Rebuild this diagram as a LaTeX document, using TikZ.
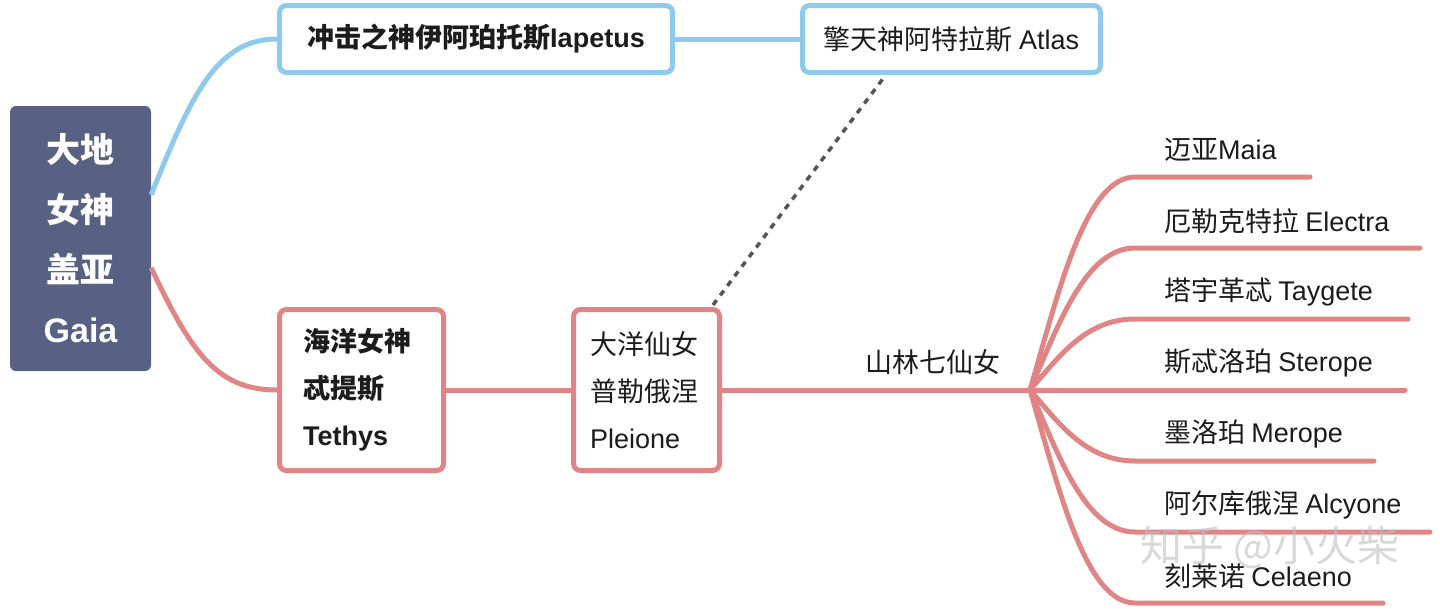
\documentclass[tikz,border=0pt]{standalone}
\usepackage{fontspec}
\setmainfont{Noto Sans CJK SC}
\newfontfamily\latinfont{Liberation Sans}
\newcommand{\lat}[1]{{\latinfont #1}}
\usetikzlibrary{calc}
\definecolor{gaiafill}{HTML}{586084}
\definecolor{blueline}{HTML}{8DCAEB}
\definecolor{redline}{HTML}{E08486}
\definecolor{dotgray}{HTML}{555555}
\definecolor{txt}{HTML}{1C1C1C}
\begin{document}
\begin{tikzpicture}[x=1pt,y=-1pt,
  rootbox/.style={fill=gaiafill, rounded corners=6pt, minimum width=141pt, minimum height=265pt,
    text=white, font=\fontsize{34}{60}\selectfont\bfseries, align=center, inner sep=0pt},
  bluebox/.style={draw=blueline, line width=5pt, rounded corners=7pt, fill=white, inner sep=0pt,
    text=txt, minimum height=67pt},
  redbox/.style={draw=redline, line width=5pt, rounded corners=7pt, fill=white, inner ysep=0pt,
    text=txt, minimum height=161pt, align=left},
  bluecon/.style={draw=blueline, line width=5pt},
  redcon/.style={draw=redline, line width=5pt, line cap=round},
  dotcon/.style={draw=dotgray, line width=3.5pt, dash pattern=on 6pt off 6pt},
  leaf/.style={text=txt, font=\fontsize{27}{32}\selectfont, inner sep=0pt},
  f27/.style={font=\fontsize{27}{47}\selectfont},
  f27b/.style={font=\fontsize{27}{47}\selectfont\bfseries},
]
\useasboundingbox (0,0) rectangle (1440,608);

% nodes
\node[rootbox] (gaia) at (80.5,238.5) {大地\\女神\\盖亚\\\lat{Gaia}};
\node[bluebox, f27b, minimum width=393pt] (iapetus) at (476,39) {冲击之神伊阿珀托斯\lat{Iapetus}};
\node[bluebox, f27, minimum width=298pt] (atlas) at (951.5,39) {擎天神阿特拉斯 \lat{Atlas}};
\node[redbox, f27b, text width=117pt, inner xsep=23.5pt] (tethys) at (361.5,390) {海洋女神\\忒提斯\\\lat{Tethys}};
\node[redbox, f27, text width=113pt, inner xsep=16.5pt] (pleione) at (646.5,390) {大洋仙女\\普勒俄涅\\\lat{Pleione}};

\coordinate (gb) at ($(gaia.north east)+(0,89)$);
\coordinate (gr) at ($(gaia.north east)+(0,162)$);
\coordinate (branch) at (1030,390);
\coordinate (ptop) at (713,305);
\coordinate (abot) at (885,76);

% connectors
\draw[bluecon] (gb) .. controls +(40,-100) and +(-60,0) .. (iapetus.west);
\draw[bluecon] (iapetus.east) -- (atlas.west);
\draw[redcon, line cap=butt] (gr) .. controls +(40,85) and +(-60,0) .. (tethys.west);
\draw[redcon, line cap=butt] (tethys.east) -- (pleione.west);
\draw[redcon, line cap=butt] (pleione.east) -- (branch);
\draw[dotcon] (ptop) -- (abot);
\node[leaf, f27] (seven) at (933,362) {山林七仙女};

\foreach \n/\y/\xe/\c/\l in {maia/177/1310/{迈亚}/{Maia},
    electra/248/1420/{厄勒克特拉 }/{Electra},
    taygete/319/1408/{塔宇革忒 }/{Taygete},
    sterope/390/1405/{斯忒洛珀 }/{Sterope},
    merope/461/1374/{墨洛珀 }/{Merope},
    alcyone/532/1430/{阿尔库俄涅 }/{Alcyone},
    celaeno/603/1383/{刻莱诺 }/{Celaeno}}{
  \coordinate (\n-s) at (1135,\y);
  \coordinate (\n-e) at (\xe,\y);
  \node[leaf, anchor=west] (\n) at (1164,\y-27) {\c\lat{\l}};
  \draw[redcon] (branch) .. controls +(28,{(\y-390)*0.45}) and +(-50,0) .. (\n-s) -- (\n-e);
}

\node[text=gray!50, opacity=0.6, font=\fontsize{42}{48}\selectfont, inner sep=0pt] (wm) at (1270,547) {知乎 @小火柴};
\end{tikzpicture}
\end{document}
